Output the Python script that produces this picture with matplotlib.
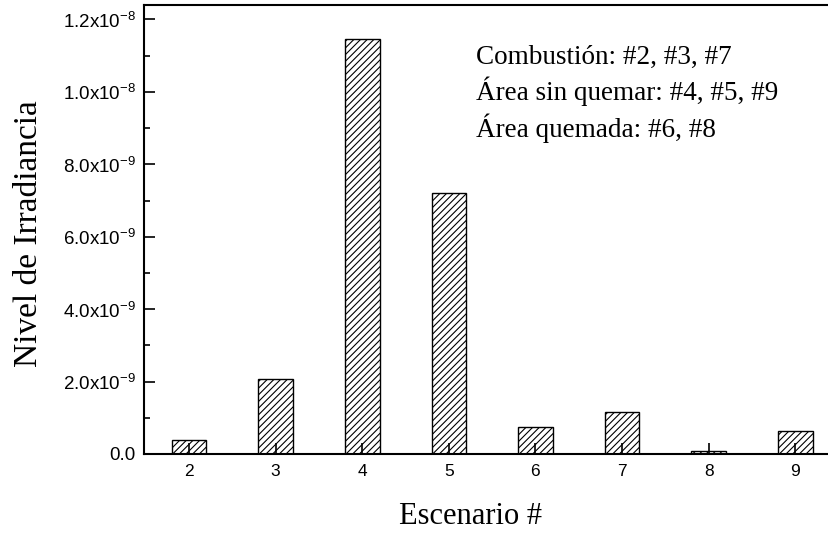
import matplotlib.pyplot as plt
from matplotlib.ticker import MultipleLocator, FuncFormatter

escenarios = [2, 3, 4, 5, 6, 7, 8, 9]
irradiancia = [0.39e-9, 2.07e-9, 11.47e-9, 7.20e-9, 0.75e-9, 1.16e-9, 0.09e-9, 0.64e-9]
ytick_vals = [0, 2e-9, 4e-9, 6e-9, 8e-9, 1e-8, 1.2e-8]
nota = ['Combustión: #2, #3, #7',
        'Área sin quemar: #4, #5, #9',
        'Área quemada: #6, #8']

plt.rcParams['hatch.linewidth'] = 0.8
plt.rcParams['axes.unicode_minus'] = False

fig = plt.figure(figsize=(8.29, 5.43), dpi=100)
ax = fig.add_axes([0.1737, 0.164, 0.8263, 0.8268])

ax.bar(escenarios, irradiancia, width=0.4, color='white',
       edgecolor='black', hatch='/////', linewidth=1.0, zorder=1)

ax.set_xlim(1.48, 9.39)
ax.set_ylim(0, 1.24e-8)
ax.set_xticks(escenarios)
ax.set_yticks(ytick_vals)
ax.yaxis.set_minor_locator(MultipleLocator(1e-9))


def fmt(v, pos):
    if v == 0:
        return '0.0'
    exp = 0
    m = v
    while abs(m) < 1:
        m *= 10
        exp -= 1
    return r'%.1fx10$^{\mathregular{%d}}$' % (m, exp)


ax.yaxis.set_major_formatter(FuncFormatter(fmt))

ax.tick_params(axis='y', which='major', direction='in', length=8,
               width=1.2, labelsize=13.5, pad=6)
ax.tick_params(axis='x', which='major', direction='in', length=8,
               width=1.2, labelsize=12.5, pad=7)
ax.tick_params(axis='both', which='minor', direction='in', length=4,
               width=1.2)
for lab in ax.get_xticklabels() + ax.get_yticklabels():
    lab.set_family('Liberation Sans')

ax.spines['right'].set_visible(False)
for s in ('left', 'bottom', 'top'):
    ax.spines[s].set_linewidth(1.5)

ax.set_xlabel('Escenario #', family='Liberation Serif', fontsize=22)
ax.set_ylabel('Nivel de Irradiancia', family='Liberation Serif',
              fontsize=24)
ax.xaxis.set_label_coords(0.476, -0.108)
ax.yaxis.set_label_coords(-0.146, 0.49)

ax.text(0.485, 0.912, '\n'.join(nota), transform=ax.transAxes,
        family='Liberation Serif', fontsize=19.5, va='top', ha='left',
        linespacing=1.3)

plt.savefig('out.png', dpi=100)
